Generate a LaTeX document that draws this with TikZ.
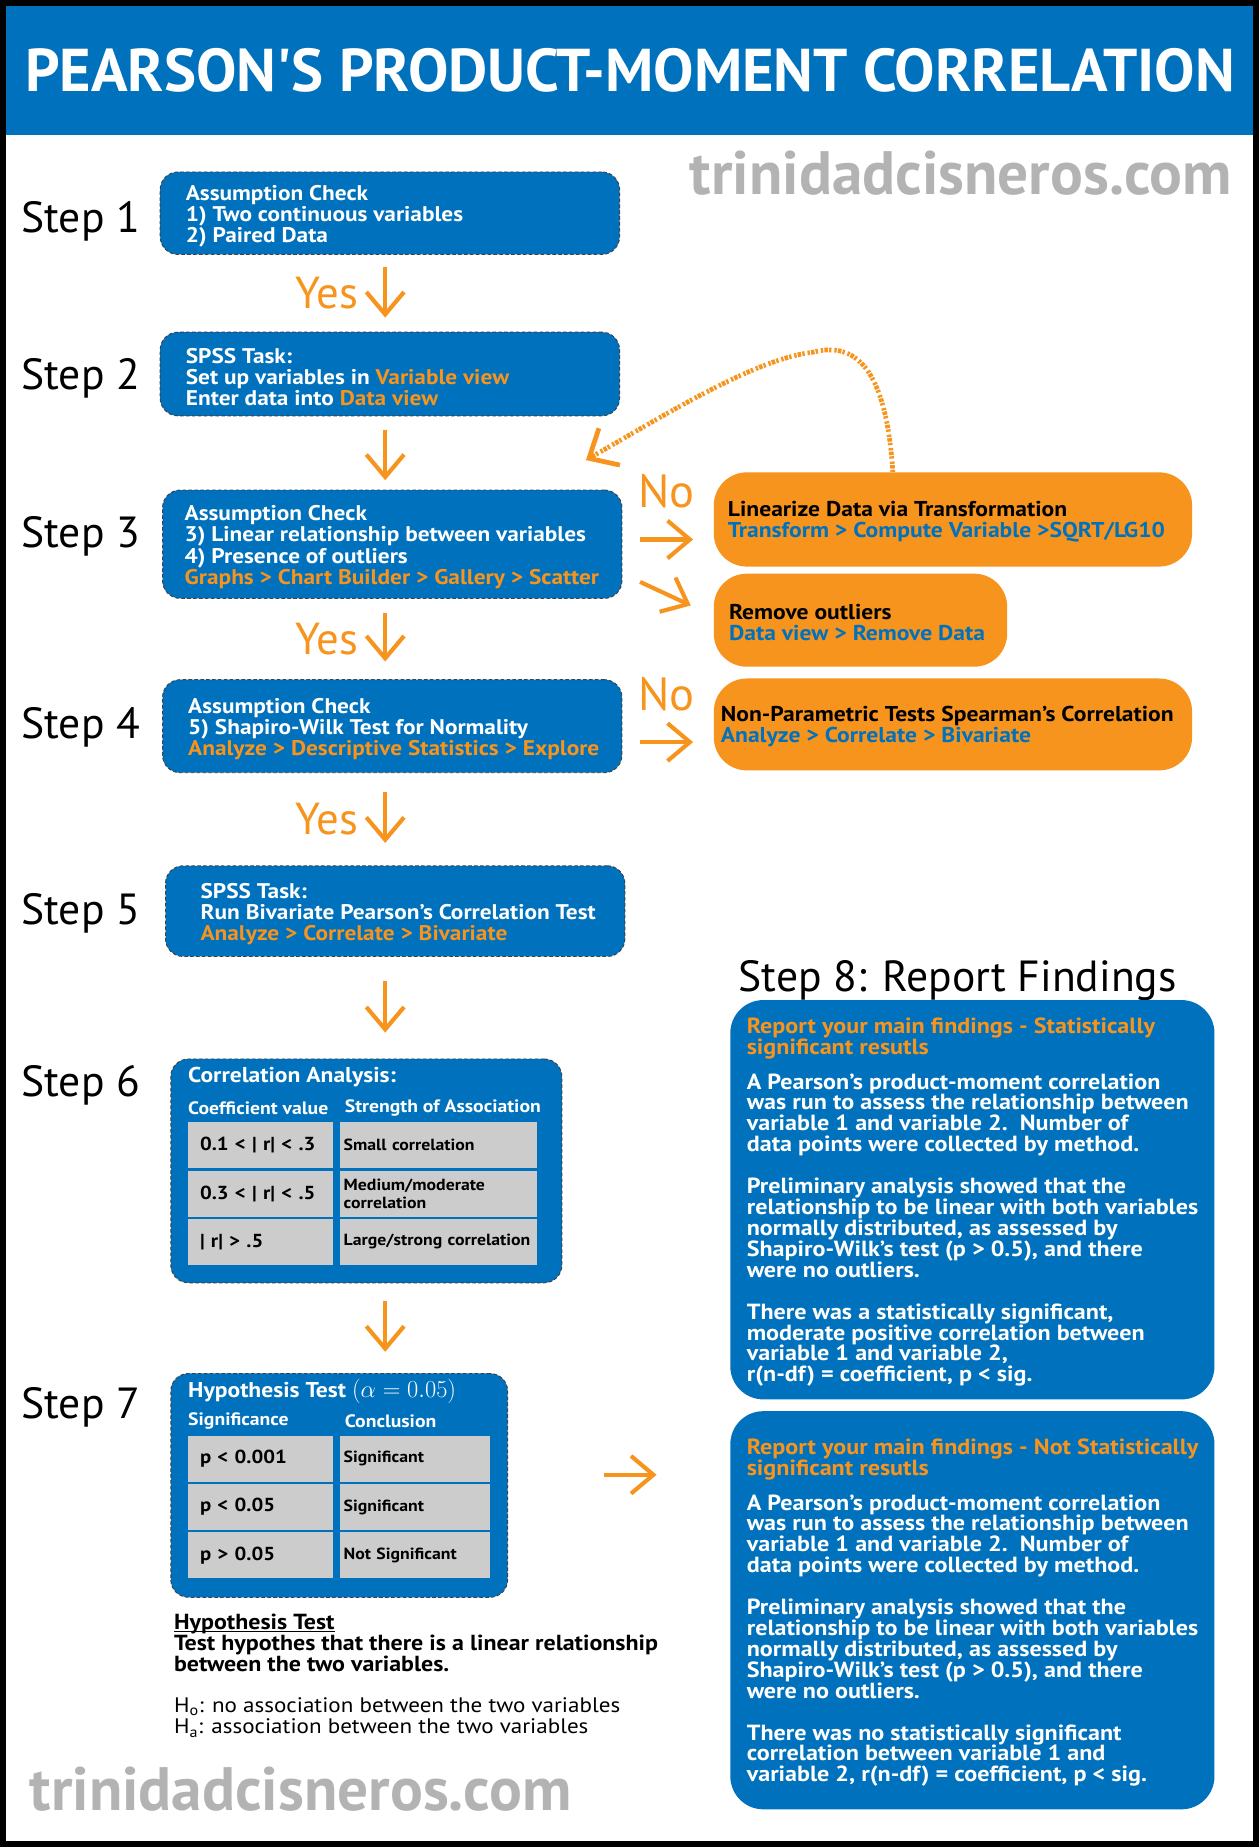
\documentclass[tikz,border=0pt]{standalone}
\usepackage[no-math]{fontspec}
\setmainfont[FakeStretch = 1.1]{PT Sans}
\newfontfamily\plainfont{PT Sans}
\usepackage{tikz}
\usetikzlibrary{positioning, matrix, arrows.meta}

\definecolor{spssblue}{HTML}{0071BC}
\definecolor{spssorange}{HTML}{F7941D}
\definecolor{cellgray}{HTML}{CCCCCC}
\definecolor{markgray}{HTML}{B3B3B3}

\newcommand{\hilite}[1]{\textcolor{spssorange}{#1}}
\newcommand{\menupath}[1]{\textcolor{spssblue}{#1}}
\newcommand{\cellsmall}{\fontsize{13.7}{15}\selectfont\bfseries}
\newcommand{\headline}[1]{\setbox0\hbox{#1}\rlap{\rule[-2pt]{\wd0}{1.1pt}}#1}
\lineskiplimit=-100pt

\tikzset{
  heading/.style = {text = white, inner sep = 0pt, font = \plainfont\fontsize{51.3}{52}\selectfont\bfseries},
  watermark/.style = {text = markgray, inner sep = 0pt, font = \plainfont\fontsize{52}{52}\selectfont\bfseries},
  steplabel/.style = {anchor = base west, inner sep = 0pt, font = \plainfont\fontsize{37}{37}\selectfont},
  stepbox/.style = {
    draw = black!75,
    densely dashed,
    line width = 0.8pt,
    fill = spssblue,
    rounded corners = 15pt,
    minimum width = 390pt
  },
  boxtext/.style = {text = white, align = left, inner sep = 0pt, yshift = -2.5pt, font = \fontsize{18}{18}\selectfont\bfseries},
  fixbox/.style = {fill = spssorange, rounded corners = 28pt, minimum width = 406pt},
  fixtext/.style = {align = left, inner sep = 0pt, yshift = -2pt, font = \fontsize{18.2}{18}\selectfont\bfseries},
  findbox/.style = {fill = spssblue, rounded corners = 28pt, minimum width = 411pt},
  findtext/.style = {text = white, align = left, inner sep = 0pt, yshift = -2pt, font = \fontsize{18.6}{17.7}\selectfont\bfseries},
  panel/.style = {
    draw = black!75,
    densely dashed,
    line width = 0.8pt,
    fill = spssblue,
    rounded corners = 15pt
  },
  paneltitle/.style = {anchor = west, text = white, inner sep = 0pt, font = \fontsize{18.2}{19}\selectfont\bfseries},
  colhead/.style = {anchor = west, text = white, inner sep = 0pt, font = \fontsize{15.2}{15.5}\selectfont\bfseries},
  table/.style = {
    matrix of nodes,
    inner sep = 0pt,
    column sep = 6pt,
    row sep = 2pt,
    nodes = {
      fill = cellgray,
      anchor = center,
      align = left,
      inner ysep = 0pt,
      minimum height = 39pt
    },
    column 1/.style = {nodes = {text width = 103pt, inner xsep = 10pt, font = \fontsize{16}{16}\selectfont\bfseries}},
    column 2/.style = {nodes = {inner xsep = 3pt, font = \cellsmall}}
  },
  note/.style = {align = left, inner sep = 0pt, font = \fontsize{18.5}{17.5}\selectfont\bfseries},
  hypline/.style = {align = left, inner sep = 0pt, font = \fontsize{17.8}{18}\selectfont},
  flow/.style = {draw = spssorange, line width = 3.5pt, -{Straight Barb[length = 19pt, width = 32pt]}},
  loopback/.style = {
    draw = spssorange,
    line width = 4pt,
    dash pattern = on 2pt off 1pt on 3pt off 1pt on 2pt off 2.5pt,
    -{Straight Barb[length = 20pt, width = 36pt]}
  },
  yes/.style = {text = spssorange, inner sep = 0pt, left = 21pt, font = \plainfont\fontsize{38}{38}\selectfont},
  no/.style = {text = spssorange, inner sep = 0pt, above = 25pt, font = \plainfont\fontsize{39.5}{40}\selectfont}
}

\begin{document}
\begin{tikzpicture}[x = 1pt, y = -1pt]
        \useasboundingbox (0, 0) rectangle (1069, 1568);
        \fill [black] (0, 0) rectangle (1069, 1568);
        \fill [white] (5, 5) rectangle (1064, 1563);
        \fill [spssblue] (5, 5) rectangle (1064, 115);

        \node [heading] (heading) at (535, 60) {PEARSON\textquotesingle S PRODUCT-MOMENT CORRELATION};
        \node [watermark, anchor = base east] (site top) at (1046, 165) {trinidadcisneros.com};
        \node [watermark, anchor = base west] (site bottom) at (25, 1537) {trinidadcisneros.com};

        \node [steplabel] (label1) at (18, 197) {Step 1};
        \node [steplabel] (label2) at (18, 331) {Step 2};
        \node [steplabel] (label3) at (18, 465) {Step 3};
        \node [steplabel] (label4) at (18, 627) {Step 4};
        \node [steplabel] (label5) at (18, 785) {Step 5};
        \node [steplabel] (label6) at (18, 931) {Step 6};
        \node [steplabel] (label7) at (18, 1204) {Step 7};
        \node [steplabel] (label8) at (627, 842) {Step 8: Report Findings};

        \node [stepbox, minimum height = 70pt] (check1) at (331, 181) {};
        \node [boxtext, right = 22pt of check1.west] (check1 text) {
          Assumption Check\\1) Two continuous variables\\2) Paired Data};
        \node [stepbox, minimum height = 71pt] (task1) at (331, 317.5) {};
        \node [boxtext, right = 22pt of task1.west] (task1 text) {
          SPSS Task:\\Set up variables in \hilite{Variable view}\\Enter data into \hilite{Data view}};
        \node [stepbox, minimum height = 92pt] (check3) at (333, 462) {};
        \node [boxtext, right = 19pt of check3.west] (check3 text) {
          Assumption Check\\3) Linear relationship between variables\\4) Presence of outliers\\
          \hilite{Graphs > Chart Builder > Gallery > Scatter}};
        \node [stepbox, minimum height = 79pt] (check4) at (333, 616.5) {};
        \node [boxtext, right = 22pt of check4.west] (check4 text) {
          Assumption Check\\5) Shapiro-Wilk Test for Normality\\
          \hilite{Analyze > Descriptive Statistics > Explore}};
        \node [stepbox, minimum height = 77pt] (task5) at (335.5, 773.5) {};
        \node [boxtext, right = 30pt of task5.west] (task5 text) {
          SPSS Task:\\Run Bivariate Pearson’s Correlation Test\\
          \hilite{Analyze > Correlate > Bivariate}};

        \node [fixbox, minimum height = 80pt] (linearize) at (809, 441) {};
        \node [fixtext, right = 12pt of linearize.west] (linearize text) {
          Linearize Data via Transformation\\\menupath{Transform > Compute Variable >SQRT/LG10}};
        \node [fixbox, minimum width = 249pt, minimum height = 79pt] (outliers) at (730.5, 526.5) {};
        \node [fixtext, right = 13pt of outliers.west] (outliers text) {
          Remove outliers\\\menupath{Data view > Remove Data}};
        \node [fixbox, minimum height = 78pt] (nonparam) at (809, 615) {};
        \node [fixtext, right = 6pt of nonparam.west] (nonparam text) {
          Non-Parametric Tests Spearman’s Correlation\\\menupath{Analyze > Correlate > Bivariate}};

        \node [panel, minimum width = 332pt, minimum height = 190pt] (analysis) at (311, 994) {};
        \node [paneltitle] (analysis title) at ([shift = {(15, 16)}] analysis.north west) {Correlation Analysis:};
        \node [colhead] (coef head) at ([shift = {(15, 42)}] analysis.north west) {Coefficient value};
        \node [colhead] (assoc head) at ([shift = {(148, 42)}] analysis.north west) {Strength of Association};
        \matrix (strength) [table, anchor = north west, column 2/.append style = {nodes = {text width = 161pt}}]
          at ([shift = {(15, 54)}] analysis.north west) {
           0.1 < \textbar{} r\textbar{} < .3 & Small correlation \\
           0.3 < \textbar{} r\textbar{} < .5 & Medium/moderate\newline correlation \\
           \textbar{} r\textbar{} > .5 & Large/strong correlation \\
        };

        \node [panel, minimum width = 286pt, minimum height = 190pt] (hypothesis) at (288, 1261) {};
        \node [paneltitle] (hypothesis title) at ([shift = {(15, 16)}] hypothesis.north west) {
          Hypothesis Test {\fontsize{21}{21}\selectfont$(\alpha = 0.05)$}};
        \node [colhead] (sig head) at ([shift = {(15, 41)}] hypothesis.north west) {Significance};
        \node [colhead] (concl head) at ([shift = {(148, 41)}] hypothesis.north west) {Conclusion};
        \matrix (decision) [table, anchor = north west, column 2/.append style = {nodes = {text width = 121pt}}]
          at ([shift = {(15, 53)}] hypothesis.north west) {
           p < 0.001 & Significant \\
           p < 0.05 & Significant \\
           p > 0.05 & Not Significant \\
        };

        \node [note, anchor = north west] (hyp note) at ([shift = {(3, 14)}] hypothesis.south west) {
          \headline{Hypothesis Test}\\Test hypothes that there is a linear relationship\\between the two variables.};
        \node [hypline, below right = 22pt and 0pt of hyp note.south west] (null lines) {
          H\textsubscript{o}: no association between the two variables\\
          H\textsubscript{a}: association between the two variables};

        \node [findbox, minimum height = 339pt] (significant) at (825.5, 1018.5) {};
        \node [findtext, right = 14pt of significant.west] (significant text) {
          \hilite{Report your main findings - Statistically}\\
          \hilite{significant resutls}\\[12pt]
          A Pearson’s product-moment correlation\\
          was run to assess the relationship between\\
          variable 1 and variable 2.\ \ Number of\\
          data points were collected by method.\\[18pt]
          Preliminary analysis showed that the\\
          relationship to be linear with both variables\\
          normally distributed, as assessed by\\
          Shapiro-Wilk’s test (p > 0.5), and there\\
          were no outliers.\\[18pt]
          There was a statistically significant,\\
          moderate positive correlation between\\
          variable 1 and variable 2,\\
          r(n-df) = coefficient, p < sig.};
        \node [findbox, minimum height = 338pt] (not significant) at (825.5, 1367) {};
        \node [findtext, right = 14pt of not significant.west] (not significant text) {
          \hilite{Report your main findings - Not Statistically}\\
          \hilite{significant resutls}\\[12pt]
          A Pearson’s product-moment correlation\\
          was run to assess the relationship between\\
          variable 1 and variable 2.\ \ Number of\\
          data points were collected by method.\\[18pt]
          Preliminary analysis showed that the\\
          relationship to be linear with both variables\\
          normally distributed, as assessed by\\
          Shapiro-Wilk’s test (p > 0.5), and there\\
          were no outliers.\\[18pt]
          There was no statistically significant\\
          correlation between variable 1 and\\
          variable 2, r(n-df) = coefficient, p < sig.};

        \coordinate (spine) at (327, 0);
        \draw [flow, shorten <= 10pt, shorten >= 12pt] (check1.south -| spine) to node [yes] {Yes} (task1.north -| spine);
        \draw [flow, shorten <= 12pt, shorten >= 8pt] (task1.south -| spine) to (check3.north -| spine);
        \draw [flow, shorten <= 12pt, shorten >= 15pt] (check3.south -| spine) to node [yes] {Yes} (check4.north -| spine);
        \draw [flow, shorten <= 16pt, shorten >= 19pt] (check4.south -| spine) to node [yes] {Yes} (task5.north -| spine);
        \draw [flow, shorten <= 20pt, shorten >= 22pt] (task5.south -| spine) to (analysis.north -| spine);
        \draw [flow, shorten <= 15pt, shorten >= 18pt] (analysis.south -| spine) to (hypothesis.north -| spine);

        \draw [flow] ([shift = {(15, -4)}] check3.east) to node [no] {No} ([shift = {(60, -4)}] check3.east);
        \draw [flow] ([shift = {(15, 32)}] check3.east) to ([shift = {(58, 52)}] check3.east);
        \draw [flow] ([shift = {(15, 13.5)}] check4.east) to node [no] {No} ([shift = {(60, 13.5)}] check4.east);
        \draw [flow] ([shift = {(81, -9)}] hypothesis.east) to ([shift = {(126, -9)}] hypothesis.east);

        \coordinate (crest) at (690, 299);
        \coordinate (reentry) at ([shift = {(-31, -25)}] check3.north east);
        \draw [loopback] ([xshift = -51pt] linearize.north) .. controls (752, 310) and (725, 290) .. (crest)
          .. controls (640, 305) and (565, 352) .. (reentry);
      \end{tikzpicture}
\end{document}
